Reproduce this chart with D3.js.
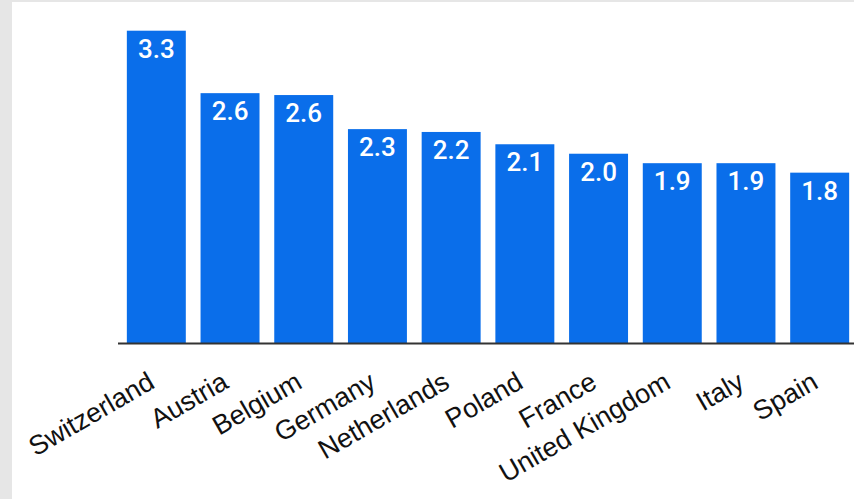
<!DOCTYPE html>
<html>
<head>
<meta charset="utf-8">
<script src="https://cdn.jsdelivr.net/npm/d3@7/dist/d3.min.js"></script>
<style>
  html, body { margin: 0; padding: 0; background: #e6e6e6; }
  svg { display: block; }
</style>
</head>
<body>
<svg id="chart" width="854" height="499"></svg>
<script>
// Countries, in descending order of value
const countries = ["Switzerland", "Austria", "Belgium", "Germany", "Netherlands",
                   "Poland", "France", "United Kingdom", "Italy", "Spain"];
const values = [3.30, 2.64, 2.62, 2.26, 2.23, 2.10, 2.00, 1.90, 1.90, 1.80];

const W = 854, H = 499;
const svg = d3.select("#chart");

// white panel
svg.append("rect").attr("x", 12).attr("y", 2).attr("width", W - 12).attr("height", H - 2)
  .attr("fill", "#ffffff");

const baseY = 343;
const x = d3.scaleBand().domain(countries).range([118, 858])
  .paddingInner(0.2).paddingOuter(0.12);
const y = d3.scaleLinear().domain([0, 3.3]).range([baseY, 30.7]);

const data = countries.map((c, i) => ({ c, v: values[i] }));

svg.append("g").selectAll("rect").data(data).join("rect")
  .attr("x", d => x(d.c))
  .attr("y", d => y(d.v))
  .attr("width", x.bandwidth())
  .attr("height", d => y(0) - y(d.v))
  .attr("fill", "#0a6eea");

svg.append("g").selectAll("text").data(data).join("text")
  .attr("x", d => x(d.c) + x.bandwidth() / 2)
  .attr("y", d => y(d.v) + 27)
  .attr("text-anchor", "middle")
  .attr("fill", "#ffffff")
  .style("font-family", "Roboto, sans-serif")
  .style("font-weight", 500)
  .style("font-size", "26px")
  .text(d => d3.format(".1f")(d.v));

// baseline axis with rotated category labels
const axis = svg.append("g").attr("transform", `translate(0,${baseY})`)
  .call(d3.axisBottom(x).tickSize(0).tickPadding(0));
axis.select(".domain").attr("stroke", "#333").attr("stroke-width", 2)
  .attr("d", `M118,0.5H858`);
axis.selectAll(".tick text")
  .attr("fill", "#111")
  .style("font-family", "'Liberation Sans', Arial, sans-serif")
  .style("font-size", "27px")
  .attr("text-anchor", "end")
  .attr("dy", null)
  .attr("y", 0)
  .attr("transform", "translate(0,44) rotate(-30)");
</script>
</body>
</html>
